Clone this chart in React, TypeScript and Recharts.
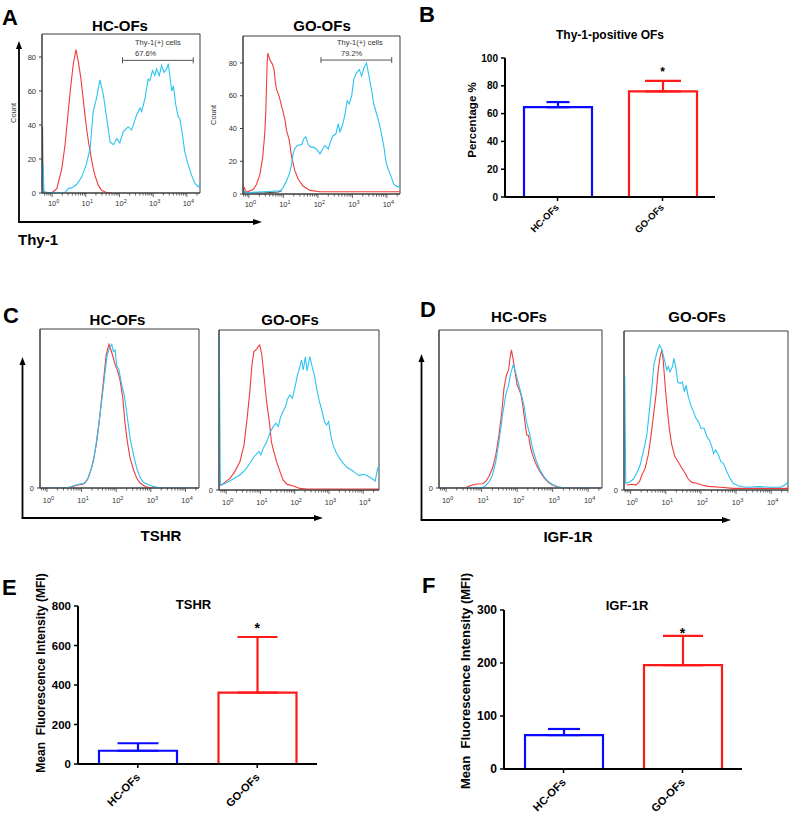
import { LineChart, Line, XAxis, YAxis, ReferenceArea, ReferenceLine, ComposedChart, Bar, Cell, ErrorBar, ReferenceDot } from "recharts";

const FONT = "'Liberation Sans', Arial, Helvetica, sans-serif";
const ISO = "#f23a3a";
const STAIN = "#2cc3f2";
const FRAME = "#3c3c3c";
const BLUE = "#0a0aff";
const RED = "#ff1a1a";

// flow histograms: [log10 fluorescence, count]
const thyHcIsotype = [[-0.01,0],[0.14,2.6],[0.29,14.5],[0.385,28.4],[0.48,48.2],[0.56,64],[0.63,76],[0.71,84.3],[0.78,77],[0.85,68],[0.93,54],[1.01,40],[1.08,30],[1.15,22],[1.22,14.5],[1.27,10.5],[1.37,4.6],[1.47,1.6],[1.62,0.2],[1.77,0]];
const thyHcStained = [[-0.262,17],[-0.245,1],[-0.2,0],[0.385,0.2],[0.48,2.6],[0.58,3],[0.73,5],[0.88,9.5],[1.01,16.5],[1.13,26.4],[1.22,48],[1.32,56],[1.42,66.5],[1.52,58],[1.62,44],[1.72,30],[1.82,28.4],[1.92,32],[2.01,29.4],[2.11,36],[2.26,39],[2.36,37],[2.51,46],[2.61,50],[2.66,48],[2.76,56],[2.85,67],[2.9,66],[2.98,72],[3.05,69],[3.1,73],[3.18,69],[3.25,75],[3.32,71],[3.4,73],[3.45,76],[3.5,68],[3.55,60],[3.6,63],[3.67,52],[3.74,45],[3.79,44],[3.87,34],[3.94,24],[4.04,16.5],[4.14,10.5],[4.24,5.6],[4.34,3.6],[4.39,5.6]];
const thyHcUnstained = [[-0.285,39],[-0.27,3],[-0.24,0.5],[0,0]];
const thyGoIsotype = [[-0.16,4.9],[-0.07,1],[0.13,2.9],[0.22,5.8],[0.32,12],[0.4,22.4],[0.46,36.6],[0.49,50],[0.51,65],[0.53,80],[0.55,86],[0.58,84],[0.63,81],[0.68,79.5],[0.73,76],[0.77,68],[0.8,64],[0.88,59.5],[0.95,53.5],[1.04,46],[1.09,39],[1.17,32.9],[1.24,22.6],[1.33,14.4],[1.43,9],[1.57,4.9],[1.77,2.2],[2.06,1.4],[4.38,1.4]];
const thyGoStained = [[-0.17,1.8],[-0.07,0.8],[0.8,1.8],[0.9,1.8],[0.99,3.9],[1.09,8],[1.17,12.1],[1.24,18.3],[1.28,24.5],[1.33,27.6],[1.4,29.6],[1.48,30],[1.53,30.2],[1.59,33.7],[1.65,35],[1.72,30.2],[1.79,28.6],[1.86,28.6],[1.96,27.5],[2.06,24.5],[2.14,27.6],[2.2,29.6],[2.3,27.5],[2.37,32.3],[2.44,35.6],[2.52,36.6],[2.59,42.8],[2.64,38],[2.71,41.8],[2.78,48],[2.85,57],[2.91,55],[2.98,60],[3.04,70],[3.12,74],[3.2,76],[3.27,72],[3.33,77],[3.41,80],[3.49,71],[3.56,63],[3.62,55],[3.7,49],[3.78,43],[3.85,36],[3.92,28],[3.97,20],[4.04,15],[4.1,12],[4.2,6],[4.3,4.5],[4.38,4.5]];
const thyGoUnstained = [[-0.17,3.5],[-0.13,1],[0.4,0.6],[0.85,1.2],[0.95,2]];

const tshrHcIsotype = [[-0.2,0],[0.62,0],[0.86,1.7],[1.05,2.5],[1.17,5.2],[1.24,9.4],[1.34,16.7],[1.44,29.3],[1.51,41.8],[1.58,56.5],[1.65,71],[1.71,83.7],[1.79,90.4],[1.85,86.8],[1.92,81.6],[1.97,77.4],[2.03,74.3],[2.11,68],[2.19,56.5],[2.25,41.8],[2.32,29.3],[2.4,18.8],[2.5,11.5],[2.59,6.3],[2.69,3.1],[2.83,1],[2.98,0.2],[3.17,0],[4.39,0]];
const tshrHcStained = [[-0.2,0],[0.57,0],[0.86,2.1],[1.1,3.1],[1.19,6.3],[1.29,12.6],[1.39,23],[1.48,37.7],[1.58,54.4],[1.68,73.2],[1.74,83.7],[1.82,88.9],[1.87,90.4],[1.92,85.8],[1.97,86.8],[2.01,77.4],[2.08,74.3],[2.16,64.9],[2.23,58.6],[2.3,48.1],[2.4,31.4],[2.5,20.9],[2.59,12.6],[2.69,6.7],[2.78,3.6],[2.93,2.1],[3.07,1],[3.27,0],[4.39,0]];
const tshrGoIsotype = [[-0.18,2.7],[-0.09,4],[0.11,7.3],[0.25,11.5],[0.4,17.7],[0.52,28],[0.61,44.8],[0.69,61.5],[0.75,78],[0.81,86.5],[0.89,88],[0.93,89.6],[0.98,90.6],[1.04,84.4],[1.1,72],[1.18,55],[1.26,42.7],[1.32,30],[1.39,24],[1.47,17.7],[1.57,11.5],[1.66,6.3],[1.78,3.5],[1.96,2.5],[2.15,1],[2.35,0.6],[4.46,0.6]];
const tshrGoStained = [[-0.205,97],[-0.17,3],[-0.14,3.1],[0.01,4.6],[0.2,6.9],[0.4,9.4],[0.57,12.9],[0.69,16.7],[0.81,20.8],[0.91,23],[0.96,24],[1.01,21.9],[1.08,26],[1.18,30.2],[1.27,35.4],[1.37,39.6],[1.45,41.7],[1.52,39.6],[1.59,45.8],[1.66,49],[1.73,52],[1.79,56.9],[1.86,59.4],[1.93,57.3],[2,63.5],[2.07,70.8],[2.15,77],[2.2,81.3],[2.25,75],[2.31,83.3],[2.36,74.4],[2.44,83.3],[2.51,77],[2.57,71.9],[2.64,63.5],[2.72,55.2],[2.79,50],[2.87,42.7],[2.93,40.6],[2.99,42.7],[3.05,34.4],[3.12,28],[3.22,23],[3.32,19.4],[3.42,16.7],[3.53,14],[3.66,12.5],[3.79,10.4],[3.88,9],[3.98,9.8],[4.08,9.4],[4.17,8.3],[4.27,6.9],[4.35,5.6],[4.41,12.5],[4.45,15]];

const igfHcIsotype = [[-0.2,0],[0.57,0.4],[0.71,1.7],[0.87,2.5],[1.02,2.7],[1.12,4.2],[1.21,7.4],[1.31,12.6],[1.4,21],[1.49,33.7],[1.57,48.4],[1.63,63.2],[1.7,71.6],[1.76,74.7],[1.8,82.1],[1.84,87.4],[1.89,81],[1.94,73.7],[2,65.3],[2.06,62.1],[2.11,59],[2.17,50.5],[2.23,40],[2.27,33.7],[2.32,33.3],[2.38,25.3],[2.45,20],[2.54,14.7],[2.64,10.5],[2.75,6.7],[2.87,3.8],[3.01,1.7],[3.15,0.6],[3.34,0],[4.39,0]];
const igfHcStained = [[-0.2,0],[0.95,0],[1.09,1],[1.21,3.8],[1.31,8.4],[1.4,16.8],[1.49,29.5],[1.59,46.3],[1.68,59],[1.76,65.3],[1.82,72.6],[1.89,77.9],[1.94,74.7],[2,69.5],[2.06,64.2],[2.12,59],[2.19,52.6],[2.26,42.1],[2.36,33.7],[2.43,25.3],[2.53,17.9],[2.64,11.6],[2.75,7.4],[2.87,4.2],[3.01,2.1],[3.15,0.8],[3.34,0],[4.39,0]];
const igfGoIsotype = [[-0.11,3.1],[0.03,3.6],[0.15,3.1],[0.25,5.2],[0.32,9.4],[0.41,13.6],[0.5,22],[0.57,32.5],[0.65,47.2],[0.72,59.7],[0.79,76.5],[0.84,83.9],[0.89,88],[0.93,80.7],[0.98,66],[1.03,53.5],[1.1,38.8],[1.17,28.3],[1.26,21],[1.36,17.4],[1.45,14],[1.55,10.5],[1.64,6.9],[1.74,4.8],[1.88,4.2],[2.02,3.1],[2.21,2.3],[2.55,1.7],[2.92,1],[4.48,1]];
const igfGoStained = [[-0.17,72],[-0.14,4.2],[-0.02,5.2],[0.08,6.9],[0.17,10.5],[0.27,15.7],[0.36,24],[0.46,34.6],[0.53,49.3],[0.6,64],[0.66,78.6],[0.74,86],[0.82,91.2],[0.88,89],[0.95,82.8],[1.03,75.5],[1.07,77.6],[1.12,74.4],[1.19,77.6],[1.23,82.8],[1.29,76.5],[1.34,68],[1.41,67],[1.47,68],[1.53,61.8],[1.58,66],[1.63,59.7],[1.71,53.5],[1.79,49.3],[1.86,45],[1.93,43],[2,38.8],[2.09,38.8],[2.17,33.5],[2.24,31.4],[2.31,27.3],[2.36,23],[2.42,25.2],[2.5,22],[2.57,17.8],[2.64,16.8],[2.74,11.5],[2.83,7.3],[2.92,4.2],[3.07,2.5],[3.3,1.7],[3.68,2.1],[3.97,1.7],[4.25,1.7],[4.4,3.1],[4.47,5.2]];

// Thy-1(+) gates [from, to] in log10 units
const thyHcGate = [2.09, 4.19];
const thyGoGate = [2.09, 4.14];

// bar panels
const groups = ["HC-OFs", "GO-OFs"];
const thyPctMean = [64.6, 76];
const thyPctSd = [3.7, 7.5];
const tshrMfiMean = [67, 361];
const tshrMfiSd = [38, 282];
const igfMfiMean = [64, 196];
const igfMfiSd = [11.5, 55];

const rows = (pts: number[][]) => pts.map(([x, y]) => ({ x, y }));

function logTicks(lo: number, hi: number) {
  const out: number[] = [];
  for (let d = -1; d <= 4; d++) {
    for (let k = 1; k <= 9; k++) {
      const v = d + Math.log10(k);
      if (v >= lo && v <= hi) out.push(v);
    }
  }
  return out;
}

const makeLogTick = (labelDy: number) => (props: any) => {
  const { x, y, payload } = props;
  const v = payload.value;
  const major = Math.abs(v - Math.round(v)) < 1e-6;
  return (
    <g>
      <line x1={x} x2={x} y1={y} y2={y + (major ? 4 : 2.5)} stroke={FRAME} strokeWidth={0.8} />
      {major && (
        <text x={x - 4.2} y={y + labelDy} fontSize={7.5} fill="#333" fontFamily={FONT}>
          10<tspan dy={-3.5} fontSize={5.5}>{Math.round(v)}</tspan>
        </text>
      )}
    </g>
  );
};

interface HistProps {
  left: number; top: number; w: number; h: number;
  domain: number[]; yMax: number; yTicks: number[];
  iso: number[][]; stain: number[][]; extra?: number[][];
  gate?: number[]; gateY?: number; labelDy: number;
}

function Histogram(p: HistProps) {
  const YW = 18, MT = 4, MR = 4, XH = 20;
  const [lo, hi] = p.domain;
  const lineProps = { dataKey: "y", type: "linear" as const, dot: false, activeDot: false, strokeWidth: 1.1, isAnimationActive: false };
  return (
    <div style={{ position: "absolute", left: p.left - YW, top: p.top - MT }}>
      <LineChart width={YW + p.w + MR} height={MT + p.h + XH} margin={{ top: MT, right: MR, bottom: 0, left: 0 }}>
        <XAxis type="number" dataKey="x" domain={[lo, hi]} allowDataOverflow ticks={logTicks(lo, hi)} interval={0}
          tickSize={0} tickMargin={0} tickLine={false} tick={makeLogTick(p.labelDy)} axisLine={{ stroke: FRAME }} height={XH} />
        <YAxis type="number" domain={[0, p.yMax]} allowDataOverflow ticks={p.yTicks} interval={0} width={YW}
          tickSize={3} tickMargin={3} tick={{ fontSize: 7.5, fill: "#333", fontFamily: FONT }}
          tickLine={{ stroke: FRAME }} axisLine={{ stroke: FRAME }} />
        <ReferenceArea x1={lo} x2={hi} y1={0} y2={p.yMax} fill="none" stroke={FRAME} strokeWidth={1} ifOverflow="visible" />
        {p.extra && <Line data={rows(p.extra)} {...lineProps} stroke="#444" />}
        <Line data={rows(p.iso)} {...lineProps} stroke={ISO} />
        <Line data={rows(p.stain)} {...lineProps} stroke={STAIN} />
        {p.gate && p.gateY !== undefined && [
          <ReferenceLine key="g0" segment={[{ x: p.gate[0], y: p.gateY }, { x: p.gate[1], y: p.gateY }]} stroke="#555" strokeWidth={1} ifOverflow="visible" />,
          <ReferenceLine key="g1" segment={[{ x: p.gate[0], y: p.gateY - 1.8 }, { x: p.gate[0], y: p.gateY + 1.8 }]} stroke="#555" strokeWidth={1} ifOverflow="visible" />,
          <ReferenceLine key="g2" segment={[{ x: p.gate[1], y: p.gateY - 1.8 }, { x: p.gate[1], y: p.gateY + 1.8 }]} stroke="#555" strokeWidth={1} ifOverflow="visible" />,
        ]}
      </LineChart>
    </div>
  );
}

interface BarProps {
  left: number; top: number; w: number; h: number;
  yMax: number; yTicks: number[]; means: number[]; sds: number[];
  star: number; barSize: number; caps: number[];
  yFont: number; xFont: number; starFont: number; tdx: number; tdy: number;
}

function MeanBars(p: BarProps) {
  const YW = 40, MT = 12, MR = 6, XH = 48;
  const data = groups.map((g, i) => ({
    name: g,
    mean: p.means[i],
    errHc: i === 0 ? [0, p.sds[i]] : undefined,
    errGo: i === 1 ? [0, p.sds[i]] : undefined,
  }));
  const colors = [BLUE, RED];
  const xTick = (props: any) => {
    const { x, y, payload } = props;
    return (
      <text transform={`translate(${x + p.tdx},${y + p.tdy}) rotate(-45)`} textAnchor="end" fontSize={p.xFont}
        fontWeight="bold" fontFamily={FONT} fill="#000">{payload.value}</text>
    );
  };
  return (
    <div style={{ position: "absolute", left: p.left - YW, top: p.top - MT }}>
      <ComposedChart width={YW + p.w + MR} height={MT + p.h + XH} data={data} margin={{ top: MT, right: MR, bottom: 0, left: 0 }}>
        <XAxis dataKey="name" height={XH} interval={0} tickSize={4} tickMargin={2} tick={xTick}
          tickLine={{ stroke: "#000", strokeWidth: 1.5 }} axisLine={{ stroke: "#000", strokeWidth: 2 }} />
        <YAxis width={YW} domain={[0, p.yMax]} ticks={p.yTicks} interval={0} allowDataOverflow tickSize={4} tickMargin={3}
          tick={{ fontSize: p.yFont, fontWeight: "bold", fill: "#000", fontFamily: FONT }}
          tickLine={{ stroke: "#000", strokeWidth: 1.5 }} axisLine={{ stroke: "#000", strokeWidth: 2 }} />
        <Bar dataKey="mean" barSize={p.barSize} fill="#fff" strokeWidth={2.2} isAnimationActive={false}>
          {groups.map((g, i) => <Cell key={g} stroke={colors[i]} fill="#fff" />)}
          <ErrorBar dataKey="errHc" direction="y" width={p.caps[0]} stroke={BLUE} strokeWidth={2.2} isAnimationActive={false} />
          <ErrorBar dataKey="errGo" direction="y" width={p.caps[1]} stroke={RED} strokeWidth={2.2} isAnimationActive={false} />
        </Bar>
        <ReferenceDot x={groups[1]} y={p.star} r={0} ifOverflow="visible"
          shape={(s: any) => (
            <text x={s.cx} y={s.cy + p.starFont * 0.57} textAnchor="middle" fontSize={p.starFont} fontWeight="bold" fontFamily={FONT} fill="#000">*</text>
          )} />
      </ComposedChart>
    </div>
  );
}

function Arrows({ x, yTop, yBottom, xEnd }: { x: number; yTop: number; yBottom: number; xEnd: number }) {
  return (
    <g>
      <line x1={x} x2={x} y1={yTop + 6} y2={yBottom} stroke="#000" strokeWidth={1.8} />
      <polygon points={`${x},${yTop} ${x - 3},${yTop + 8} ${x + 3},${yTop + 8}`} fill="#000" />
      <line x1={x - 0.9} x2={xEnd - 6} y1={yBottom} y2={yBottom} stroke="#000" strokeWidth={1.8} />
      <polygon points={`${xEnd},${yBottom} ${xEnd - 9},${yBottom - 3} ${xEnd - 9},${yBottom + 3}`} fill="#000" />
    </g>
  );
}

const T = (props: any) => <text fontFamily={FONT} fill="#000" {...props} />;
const VT = ({ cx, cy, children, ...rest }: any) => (
  <text transform={`translate(${cx},${cy}) rotate(-90)`} textAnchor="middle" dominantBaseline="central" fontFamily={FONT} fill="#000" style={{ whiteSpace: "pre" }} {...rest}>{children}</text>
);

export default function App() {
  return (
    <div style={{ position: "absolute", left: 0, top: 0, width: 789, height: 818, background: "#fff", overflow: "hidden" }}>
      <Histogram left={42} top={34} w={158} h={159} domain={[-0.3, 4.39]} yMax={93.5} yTicks={[0, 20, 40, 60, 80]}
        iso={thyHcIsotype} stain={thyHcStained} extra={thyHcUnstained} gate={thyHcGate} gateY={78} labelDy={13} />
      <Histogram left={243} top={36} w={157} h={158} domain={[-0.17, 4.38]} yMax={96.5} yTicks={[0, 20, 40, 60, 80]}
        iso={thyGoIsotype} stain={thyGoStained} extra={thyGoUnstained} gate={thyGoGate} gateY={81.8} labelDy={13} />
      <Histogram left={40} top={329} w={159} h={159} domain={[-0.2, 4.39]} yMax={100} yTicks={[0]}
        iso={tshrHcIsotype} stain={tshrHcStained} labelDy={15} />
      <Histogram left={219} top={330} w={160} h={160} domain={[-0.21, 4.46]} yMax={100} yTicks={[0]}
        iso={tshrGoIsotype} stain={tshrGoStained} labelDy={15} />
      <Histogram left={439} top={330} w={163} h={158} domain={[-0.2, 4.39]} yMax={100} yTicks={[0]}
        iso={igfHcIsotype} stain={igfHcStained} labelDy={15} />
      <Histogram left={624} top={331} w={164} h={159} domain={[-0.19, 4.48]} yMax={100} yTicks={[0]}
        iso={igfGoIsotype} stain={igfGoStained} labelDy={15} />

      <MeanBars left={505} top={58} w={210} h={139} yMax={100} yTicks={[0, 20, 40, 60, 80, 100]}
        means={thyPctMean} sds={thyPctSd} star={92} barSize={68} caps={[11.5, 18]} yFont={10} xFont={9.5} starFont={12} tdx={2} tdy={5} />
      <MeanBars left={78} top={606} w={239} h={158} yMax={800} yTicks={[0, 200, 400, 600, 800]}
        means={tshrMfiMean} sds={tshrMfiSd} star={704} barSize={78} caps={[20.5, 20]} yFont={11.5} xFont={11} starFont={14} tdx={3} tdy={8} />
      <MeanBars left={504} top={610} w={238} h={159} yMax={300} yTicks={[0, 100, 200, 300]}
        means={igfMfiMean} sds={igfMfiSd} star={262} barSize={78} caps={[16, 20]} yFont={12} xFont={11} starFont={14} tdx={3} tdy={8} />

      <svg width={789} height={818} style={{ position: "absolute", left: 0, top: 0, pointerEvents: "none" }}>
        <T x={2} y={25} fontSize={22} fontWeight="bold">A</T>
        <T x={419} y={22} fontSize={22} fontWeight="bold">B</T>
        <T x={3} y={323} fontSize={22} fontWeight="bold">C</T>
        <T x={420} y={317} fontSize={22} fontWeight="bold">D</T>
        <T x={2} y={595} fontSize={22} fontWeight="bold">E</T>
        <T x={422} y={593} fontSize={22} fontWeight="bold">F</T>

        <T x={120} y={31} fontSize={15} fontWeight="bold" textAnchor="middle">HC-OFs</T>
        <T x={322} y={31} fontSize={15} fontWeight="bold" textAnchor="middle">GO-OFs</T>
        <VT cx={13} cy={113} fontSize={7.5} fill="#333">Count</VT>
        <VT cx={213} cy={115} fontSize={7.5} fill="#333">Count</VT>
        <T x={135} y={45} fontSize={7.5} fill="#333">Thy-1(+) cells</T>
        <T x={135} y={56} fontSize={7.5} fill="#333">67.6%</T>
        <T x={337} y={45} fontSize={7.5} fill="#333">Thy-1(+) cells</T>
        <T x={341} y={56} fontSize={7.5} fill="#333">79.2%</T>
        <Arrows x={19} yTop={41} yBottom={222} xEnd={262} />
        <T x={18} y={245} fontSize={15} fontWeight="bold">Thy-1</T>

        <T x={610} y={39} fontSize={12} fontWeight="bold" textAnchor="middle">Thy-1-positive OFs</T>
        <VT cx={472} cy={120} fontSize={11.5} fontWeight="bold">Percentage %</VT>

        <T x={117.5} y={325} fontSize={15} fontWeight="bold" textAnchor="middle">HC-OFs</T>
        <T x={290} y={325} fontSize={15} fontWeight="bold" textAnchor="middle">GO-OFs</T>
        <Arrows x={22.5} yTop={357} yBottom={518} xEnd={323} />
        <T x={161} y={541} fontSize={15} fontWeight="bold" textAnchor="middle">TSHR</T>

        <T x={519} y={322} fontSize={15} fontWeight="bold" textAnchor="middle">HC-OFs</T>
        <T x={697} y={322} fontSize={15} fontWeight="bold" textAnchor="middle">GO-OFs</T>
        <Arrows x={421.5} yTop={354} yBottom={520} xEnd={731} />
        <T x={568} y={542} fontSize={15} fontWeight="bold" textAnchor="middle">IGF-1R</T>

        <T x={193.5} y={609} fontSize={13} fontWeight="bold" textAnchor="middle">TSHR</T>
        <VT cx={41} cy={673} fontSize={12} fontWeight="bold">{"Mean  Fluorescence Intensity (MFI)"}</VT>
        <T x={627} y={610} fontSize={13} fontWeight="bold" textAnchor="middle">IGF-1R</T>
        <VT cx={465} cy={681} fontSize={13} fontWeight="bold">{"Mean  Fluorescence Intensity (MFI)"}</VT>
      </svg>
    </div>
  );
}
